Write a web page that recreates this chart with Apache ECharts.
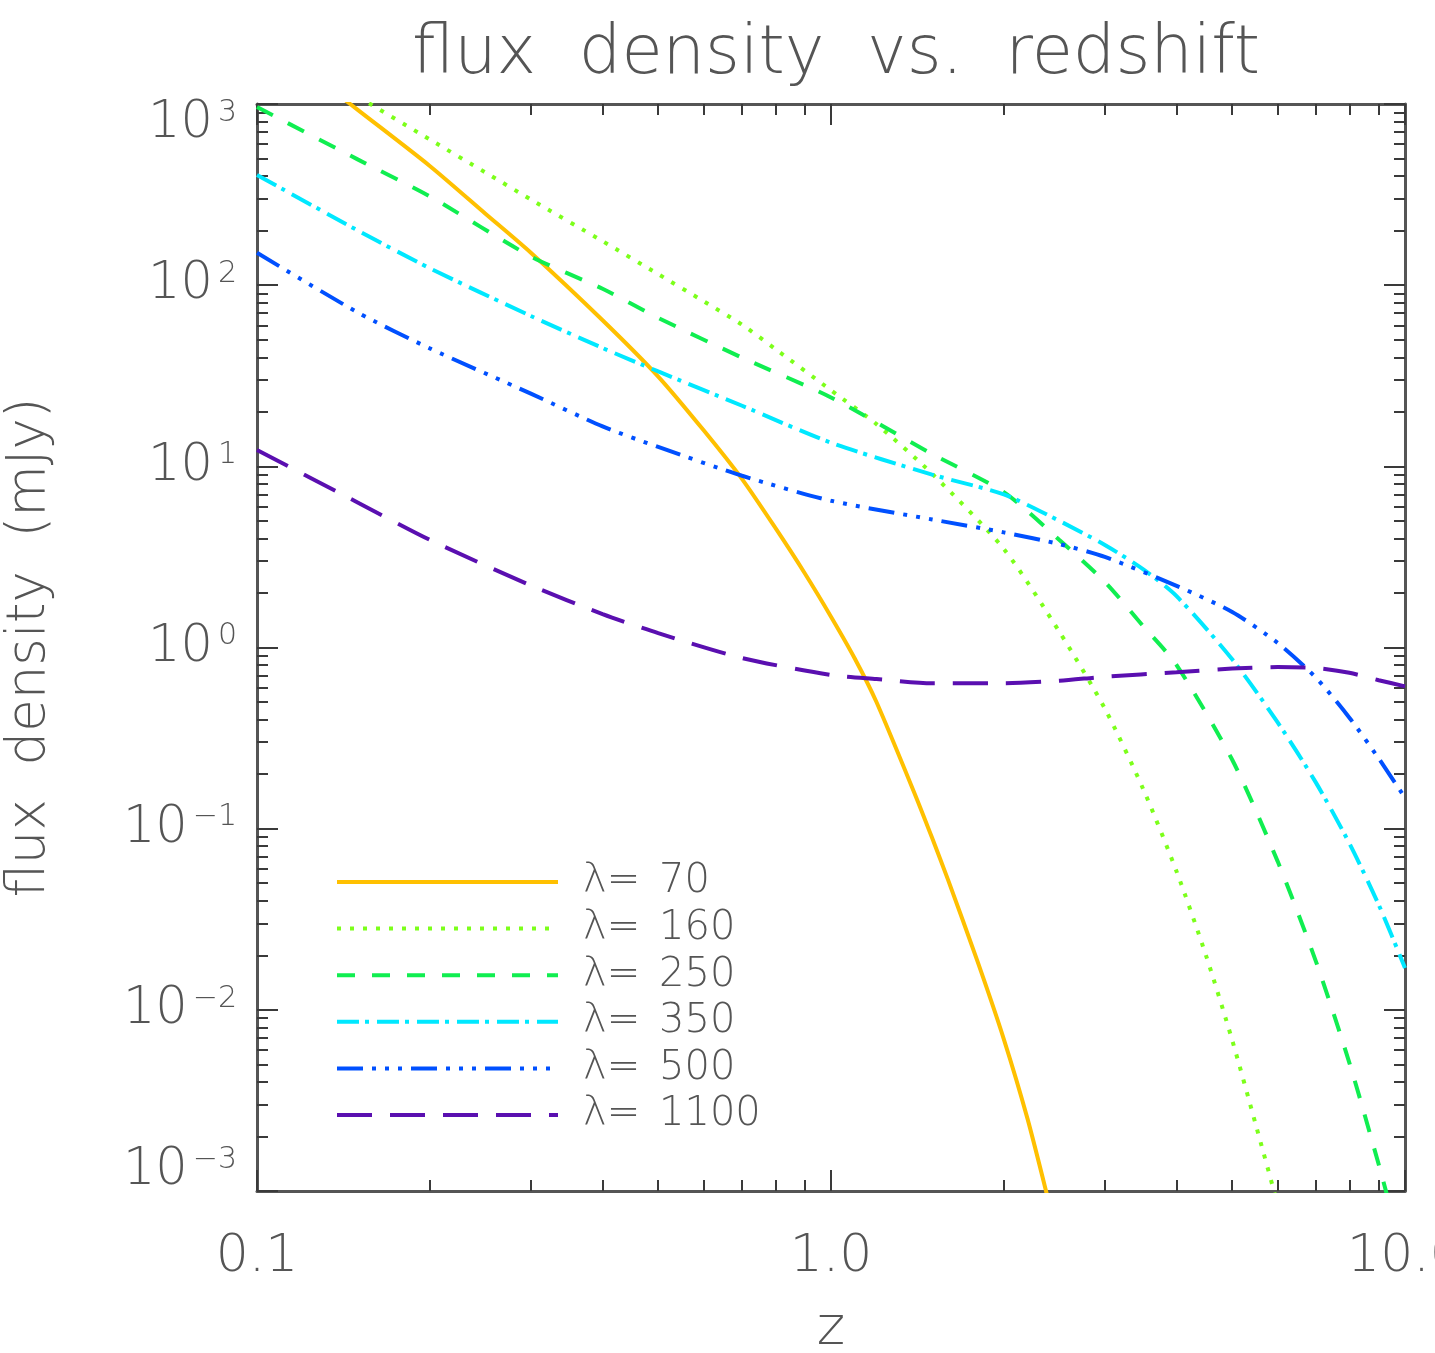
<!DOCTYPE html>
<html>
<head>
<meta charset="utf-8">
<script src="https://cdn.jsdelivr.net/npm/echarts@6/dist/echarts.min.js"></script>
<style>
  html, body { margin: 0; padding: 0; background: #ffffff; }
  #chart { width: 1435px; height: 1353px; }
</style>
</head>
<body>
<div id="chart"></div>
<script>
// Model flux density (mJy) against redshift z, one curve per observed wavelength (µm)
const z70 = [0.14, 0.15, 0.2, 0.25, 0.3, 0.4, 0.5, 0.6, 0.7, 0.8, 0.9, 1.0, 1.1, 1.2, 1.4, 1.5, 1.6, 1.8, 2.0, 2.2, 2.4, 2.5];
const flux70 = [1096, 925, 455, 248, 151, 64, 31.3, 15.8, 8.5, 4.57, 2.57, 1.48, 0.87, 0.50, 0.155, 0.089, 0.052, 0.0185, 0.0069, 0.0025, 0.00085, 0.0005];

const z160 = [0.15, 0.2, 0.25, 0.3, 0.4, 0.5, 0.6, 0.7, 0.8, 1.0, 1.2, 1.5, 2.0, 2.5, 3.0, 3.5, 4.0, 4.5, 5.0, 5.5, 6.0, 6.3];
const flux160 = [1096, 637, 419, 297, 175, 115, 81.5, 60.5, 44.4, 26.3, 17.1, 9.1, 3.5, 1.22, 0.46, 0.165, 0.058, 0.020, 0.0068, 0.0023, 0.00083, 0.0004];

const z250 = [0.1, 0.15, 0.2, 0.3, 0.4, 0.5, 0.7, 1.0, 1.5, 2.0, 2.5, 3.0, 3.5, 4.0, 5.0, 6.0, 7.0, 8.0, 9.0, 9.5, 10];
const flux250 = [962, 493, 309, 144, 95.5, 66, 39.8, 24, 11.7, 7.2, 3.92, 2.3, 1.31, 0.80, 0.24, 0.066, 0.0184, 0.0051, 0.0014, 0.00074, 0.0004];

const z350 = [0.1, 0.15, 0.2, 0.3, 0.4, 0.5, 0.7, 1.0, 1.5, 2.0, 2.5, 3.0, 3.5, 4.0, 5.0, 6.0, 7.0, 8.0, 9.0, 10];
const flux350 = [406, 200, 124, 67.6, 45, 33.4, 21.6, 13.5, 9.0, 7.0, 5.0, 3.68, 2.70, 1.92, 0.86, 0.386, 0.179, 0.083, 0.038, 0.017];

const z500 = [0.1, 0.15, 0.2, 0.3, 0.4, 0.5, 0.7, 1.0, 1.5, 2.0, 2.5, 3.0, 4.0, 5.0, 6.0, 7.0, 8.0, 9.0, 10];
const flux500 = [151, 70.5, 44.8, 25.2, 16.6, 12.8, 8.87, 6.46, 5.09, 4.32, 3.72, 3.16, 2.19, 1.57, 1.06, 0.68, 0.41, 0.244, 0.148];

const z1100 = [0.1, 0.15, 0.2, 0.3, 0.4, 0.5, 0.7, 1.0, 1.2, 1.5, 2.0, 2.5, 3.0, 4.0, 5.0, 6.0, 7.0, 8.0, 9.0, 10];
const flux1100 = [12.3, 6.3, 3.93, 2.2, 1.53, 1.20, 0.875, 0.705, 0.67, 0.635, 0.635, 0.655, 0.69, 0.73, 0.765, 0.78, 0.77, 0.725, 0.66, 0.61];

// axis ranges and minor tick multipliers (2..9 within each decade)
const zRange = [0.1, 10];
const fluxRange = [0.001, 1000];
const minorMultipliers = [2, 3, 4, 5, 6, 7, 8, 9];
const zDecades = [-1, 0];
const fluxDecades = [-3, -2, -1, 0, 1, 2];

const FONT = 'DejaVu Sans';
const TEXT = '#555555';
const FRAME = '#555555';
const TICK = '#3a3a3a';

// minor tick positions expressed in log10 units, for the log-space helper axes
function minorLogTicks(decades) {
  const out = [];
  decades.forEach(d => minorMultipliers.forEach(m => out.push(d + Math.log10(m))));
  return out;
}
const zMinor = minorLogTicks(zDecades);
const fluxMinor = minorLogTicks(fluxDecades);

function pairs(xs, ys) { return xs.map((x, i) => [x, ys[i]]); }

const curves = [
  { name: '70',   z: z70,   f: flux70,   color: '#FFC000', type: 'solid' },
  { name: '160',  z: z160,  f: flux160,  color: '#7CFF1A', type: [4, 9] },
  { name: '250',  z: z250,  f: flux250,  color: '#10EE50', type: [18, 17] },
  { name: '350',  z: z350,  f: flux350,  color: '#00E8FF', type: [22, 6, 4, 8] },
  { name: '500',  z: z500,  f: flux500,  color: '#0050FF', type: [26, 9, 4, 9, 4, 9, 4, 9] },
  { name: '1100', z: z1100, f: flux1100, color: '#5A0FB0', type: [35, 18] }
];

const chart = echarts.init(document.getElementById('chart'), null, { renderer: 'canvas' });

const majorTick = { show: true, inside: true, length: 21, lineStyle: { color: TICK, width: 2 } };
const minorTickStyle = (values) => ({ show: true, inside: true, length: 11, customValues: values, lineStyle: { color: TICK, width: 2 } });
const frameLine = { show: true, onZero: false, lineStyle: { color: FRAME, width: 3 } };
const hiddenLine = { show: false, onZero: false };

function yLabel(v) {
  const n = Math.round(Math.log10(v));
  const sup = n < 0 ? '\u2212' + (-n) : String(n);
  let s = '{b|10}{s|' + sup + '}';
  if (n === 3) s = '{gap| }\n' + s;
  if (n === -3) s = s + '\n{gap| }';
  return s;
}

const option = {
  backgroundColor: '#ffffff',
  animation: false,
  title: {
    text: 'flux  density  vs.  redshift',
    left: 831,
    top: 17,
    textAlign: 'center',
    textStyle: { fontFamily: FONT, fontWeight: 200, fontSize: 67, color: TEXT }
  },
  grid: { left: 257, right: 30, top: 104, bottom: 162, containLabel: false, outerBoundsMode: 'none' },
  legend: {
    orient: 'vertical',
    left: 330,
    top: 857,
    itemWidth: 221,
    itemHeight: 14,
    itemGap: 6.6,
    selectedMode: false,
    itemStyle: { opacity: 0 },
    lineStyle: { width: 4 },
    data: curves.map(c => c.name),
    formatter: name => '{a|λ=}{b|' + name + '}',
    textStyle: {
      fontFamily: FONT, fontWeight: 200, fontSize: 40, lineHeight: 40, color: TEXT,
      padding: [0, 0, 0, 20],
      rich: {
        a: { fontFamily: FONT, fontWeight: 200, fontSize: 40, lineHeight: 40, color: TEXT, width: 76 },
        b: { fontFamily: FONT, fontWeight: 200, fontSize: 40, lineHeight: 40, color: TEXT }
      }
    }
  },
  xAxis: [
    {
      type: 'log', logBase: 10, min: zRange[0], max: zRange[1], position: 'bottom',
      axisLine: frameLine, axisTick: majorTick, splitLine: { show: false },
      axisLabel: {
        show: true, margin: 40, fontFamily: FONT, fontWeight: 200, fontSize: 52, color: TEXT,
        formatter: v => Number(v).toFixed(1)
      },
      name: 'z', nameLocation: 'middle', nameGap: 112,
      nameTextStyle: { fontFamily: FONT, fontWeight: 200, fontSize: 54, color: TEXT }
    },
    {
      type: 'value', min: Math.log10(zRange[0]), max: Math.log10(zRange[1]), position: 'bottom',
      axisLine: hiddenLine, axisLabel: { show: false }, splitLine: { show: false },
      axisTick: minorTickStyle(zMinor)
    },
    {
      type: 'log', logBase: 10, min: zRange[0], max: zRange[1], position: 'top',
      axisLine: frameLine, axisTick: majorTick, axisLabel: { show: false }, splitLine: { show: false }
    },
    {
      type: 'value', min: Math.log10(zRange[0]), max: Math.log10(zRange[1]), position: 'top',
      axisLine: hiddenLine, axisLabel: { show: false }, splitLine: { show: false },
      axisTick: minorTickStyle(zMinor)
    }
  ],
  yAxis: [
    {
      type: 'log', logBase: 10, min: fluxRange[0], max: fluxRange[1], position: 'left',
      axisLine: frameLine, axisTick: majorTick, splitLine: { show: false },
      axisLabel: {
        show: true, margin: 20, formatter: yLabel,
        rich: {
          b: { fontFamily: FONT, fontWeight: 200, fontSize: 51, lineHeight: 52, color: TEXT },
          s: { fontFamily: FONT, fontWeight: 200, fontSize: 30, lineHeight: 22, color: TEXT, verticalAlign: 'top', padding: [0, 0, 0, 5] },
          gap: { fontSize: 10, lineHeight: 40 }
        }
      },
      name: 'flux  density  (mJy)', nameLocation: 'middle', nameGap: 200,
      nameTextStyle: { fontFamily: FONT, fontWeight: 200, fontSize: 53, color: TEXT }
    },
    {
      type: 'value', min: Math.log10(fluxRange[0]), max: Math.log10(fluxRange[1]), position: 'left',
      axisLine: hiddenLine, axisLabel: { show: false }, splitLine: { show: false },
      axisTick: minorTickStyle(fluxMinor)
    },
    {
      type: 'log', logBase: 10, min: fluxRange[0], max: fluxRange[1], position: 'right',
      axisLine: frameLine, axisTick: majorTick, axisLabel: { show: false }, splitLine: { show: false }
    },
    {
      type: 'value', min: Math.log10(fluxRange[0]), max: Math.log10(fluxRange[1]), position: 'right',
      axisLine: hiddenLine, axisLabel: { show: false }, splitLine: { show: false },
      axisTick: minorTickStyle(fluxMinor)
    }
  ],
  series: curves.map(c => ({
    name: c.name,
    type: 'line',
    xAxisIndex: 0,
    yAxisIndex: 0,
    data: pairs(c.z, c.f),
    showSymbol: false,
    symbol: 'none',
    smooth: 0.25,
    clip: true,
    color: c.color,
    lineStyle: { color: c.color, width: 4, type: c.type, cap: 'butt' }
  }))
};

chart.setOption(option);
</script>
</body>
</html>
